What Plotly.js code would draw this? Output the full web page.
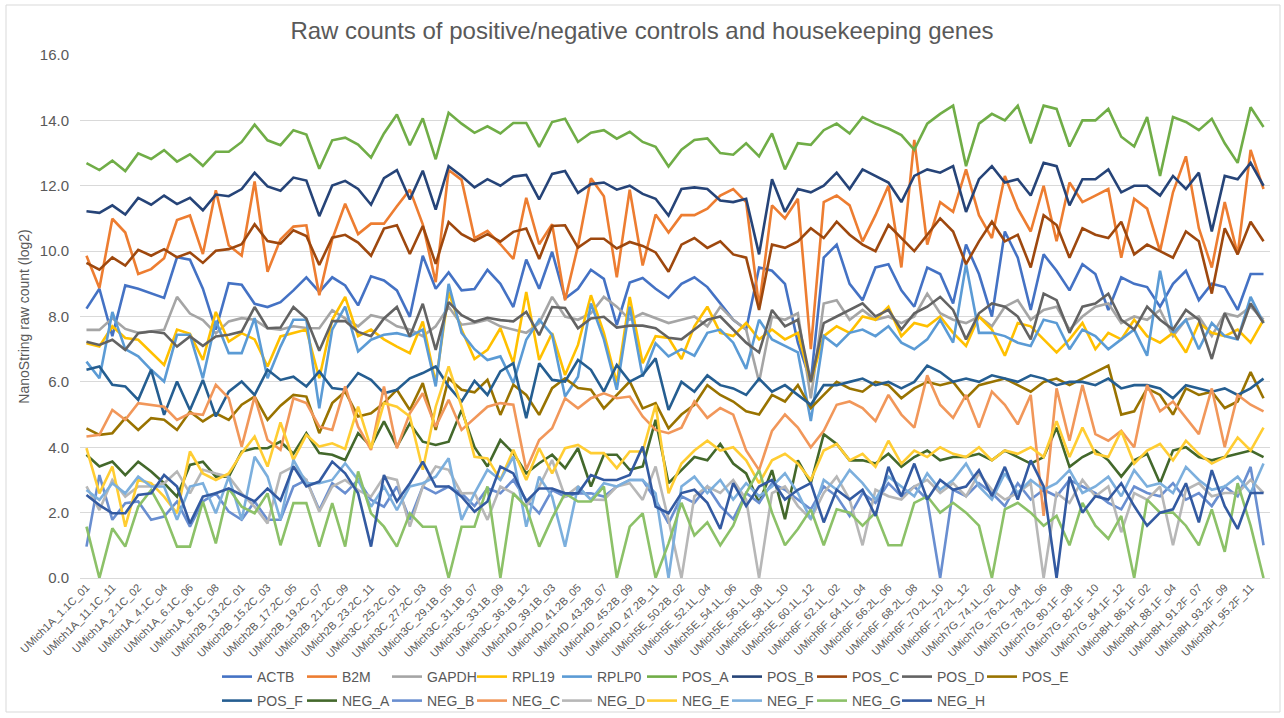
<!DOCTYPE html>
<html>
<head>
<meta charset="utf-8">
<script src="https://cdn.plot.ly/plotly-3.0.1.min.js"></script>
<style>
  html, body { margin: 0; padding: 0; background: #ffffff; overflow: hidden; }
  #chart { width: 1284px; height: 718px; }
</style>
</head>
<body>
<div id="chart"></div>
<script>
const samples = [
  "UMich1A_1.1C_01","UMich1A_10.1C_10","UMich1A_11.1C_11","UMich1A_12.1C_12","UMich1A_2.1C_02","UMich1A_3.1C_03",
  "UMich1A_4.1C_04","UMich1A_5.1C_05","UMich1A_6.1C_06","UMich1A_7.1C_07","UMich1A_8.1C_08","UMich1A_9.1C_09",
  "UMich2B_13.2C_01","UMich2B_14.2C_02","UMich2B_15.2C_03","UMich2B_16.2C_04","UMich2B_17.2C_05","UMich2B_18.2C_06",
  "UMich2B_19.2C_07","UMich2B_20.2C_08","UMich2B_21.2C_09","UMich2B_22.2C_10","UMich2B_23.2C_11","UMich2B_24.2C_12",
  "UMich3C_25.2C_01","UMich3C_26.2C_02","UMich3C_27.2C_03","UMich3C_28.2C_04","UMich3C_29.1B_05","UMich3C_30.1B_06",
  "UMich3C_31.1B_07","UMich3C_32.1B_08","UMich3C_33.1B_09","UMich3C_34.1B_10","UMich3C_36.1B_12","UMich4D_38.1B_02",
  "UMich4D_39.1B_03","UMich4D_40.1B_04","UMich4D_41.2B_05","UMich4D_42.2B_06","UMich4D_43.2B_07","UMich4D_44.2B_08",
  "UMich4D_45.2B_09","UMich4D_46.2B_10","UMich4D_47.2B_11","UMich4D_48.2B_12","UMich5E_50.2B_02","UMich5E_51.2B_03",
  "UMich5E_52.1L_04","UMich5E_53.1L_05","UMich5E_54.1L_06","UMich5E_55.1L_07","UMich5E_56.1L_08","UMich5E_57.1L_09",
  "UMich5E_58.1L_10","UMich5E_59.1L_11","UMich5E_60.1L_12","UMich6F_61.1L_01","UMich6F_62.1L_02","UMich6F_63.1L_03",
  "UMich6F_64.1L_04","UMich6F_65.2L_05","UMich6F_66.2L_06","UMich6F_67.2L_07","UMich6F_68.2L_08","UMich6F_69.2L_09",
  "UMich6F_70.2L_10","UMich6F_71.2L_11","UMich6F_72.2L_12","UMich7G_73.1L_01","UMich7G_74.1L_02","UMich7G_75.2L_03",
  "UMich7G_76.2L_04","UMich7G_77.2L_05","UMich7G_78.2L_06","UMich7G_79.1F_07","UMich7G_80.1F_08","UMich7G_81.1F_09",
  "UMich7G_82.1F_10","UMich7G_83.1F_11","UMich7G_84.1F_12","UMich8H_85.1F_01","UMich8H_86.1F_02","UMich8H_87.1F_03",
  "UMich8H_88.1F_04","UMich8H_90.2F_06","UMich8H_91.2F_07","UMich8H_92.2F_08","UMich8H_93.2F_09","UMich8H_94.2F_10",
  "UMich8H_95.2F_11","UMich8H_96.2F_12"
];

const ACTB = [8.24,8.85,7.4,8.95,8.85,8.7,8.57,9.81,9.74,8.85,7.6,9.02,8.97,8.39,8.29,8.44,8.8,9.2,8.75,9.2,8.95,8.34,9.23,9.1,8.8,7.99,9.86,8.85,9.35,8.8,8.84,9.43,9.0,8.29,9.74,8.85,9.98,8.55,8.85,9.43,9.15,7.74,9.04,9.18,8.85,8.57,
  9.0,9.2,8.9,8.4,7.9,7.6,9.5,9.4,9.0,7.2,6.0,9.8,10.2,9.0,8.5,9.5,9.6,8.8,8.3,9.5,9.3,8.4,10.2,9.3,8.0,10.6,9.8,8.2,9.9,9.4,8.8,9.6,9.3,8.2,9.2,9.0,8.9,8.3,9.0,9.4,8.5,9.0,8.9,8.2,9.3,9.3];
const B2M = [9.86,8.87,10.99,10.57,9.3,9.45,9.78,10.95,11.09,9.91,11.86,10.18,9.86,12.13,9.37,10.36,10.75,10.79,8.65,10.36,11.45,10.52,10.84,10.84,11.37,11.88,10.82,9.05,12.48,12.18,10.4,10.62,10.21,9.76,11.63,10.21,10.82,8.5,10.16,12.23,11.68,9.2,11.88,9.56,11.12,10.57,
  11.1,11.1,11.3,11.7,11.9,11.5,8.3,11.4,11.0,11.6,7.0,11.5,11.7,11.4,10.3,11.1,12.0,9.5,13.4,10.2,11.5,11.2,12.5,11.1,10.4,12.3,11.3,10.6,12.0,10.3,12.1,11.5,11.7,11.9,9.8,11.6,11.3,10.0,11.8,12.9,10.7,9.5,11.5,9.9,13.1,11.9];
const GAPDH = [7.59,7.59,7.95,7.62,7.5,7.55,7.59,8.6,8.09,7.89,7.48,7.85,7.95,7.9,7.64,7.6,7.7,7.65,7.64,8.19,7.94,7.7,8.04,7.95,7.7,7.6,7.4,7.7,8.3,7.75,7.8,7.9,7.7,7.6,7.5,7.8,8.6,8.0,7.9,8.1,8.6,8.3,7.9,8.1,7.95,7.8,
  7.9,8.0,7.7,8.3,7.9,7.6,6.0,8.0,7.9,8.1,5.5,8.4,8.5,7.9,8.2,7.9,8.0,7.8,8.0,8.7,8.1,7.9,7.8,8.0,7.7,8.3,8.5,7.9,8.2,8.3,7.6,8.0,8.3,8.4,7.8,8.0,7.9,8.2,7.4,7.9,8.0,7.4,8.1,8.0,8.3,7.9];
const RPL19 = [7.18,7.08,7.7,7.34,7.29,6.9,6.52,7.6,7.47,6.67,8.14,7.23,7.49,7.3,6.47,7.39,7.5,7.6,6.11,7.9,8.6,7.4,7.6,7.3,7.08,6.88,7.85,5.96,8.75,7.6,6.7,6.98,7.64,6.57,8.75,6.67,7.49,6.21,7.13,8.65,7.5,5.96,8.6,6.57,7.4,7.34,
  6.7,7.7,8.3,7.5,7.4,7.8,7.3,7.6,7.3,7.5,6.0,7.4,7.7,7.5,8.0,7.9,8.3,7.4,7.8,7.7,8.0,7.5,7.1,8.0,7.6,6.8,7.8,7.7,7.3,6.9,7.3,7.8,7.0,7.5,7.3,7.9,7.4,7.2,7.5,6.9,7.8,7.5,7.4,7.6,7.2,7.9];
const RPLP0 = [6.62,6.11,8.14,7.0,6.78,6.37,6.01,7.44,7.44,6.11,7.87,6.88,6.88,7.95,6.11,7.08,7.9,7.9,5.19,7.6,8.3,6.93,7.29,7.44,7.49,7.39,7.6,5.86,9.0,7.5,7.0,6.67,6.78,5.96,7.29,7.9,7.44,5.55,6.16,8.4,7.3,5.76,8.3,6.16,7.18,6.78,
  7.0,6.8,7.5,7.6,7.2,6.4,7.9,7.3,7.1,6.9,4.8,7.4,7.1,7.5,7.6,7.4,7.7,7.2,7.0,7.3,7.9,7.2,9.6,7.5,7.5,7.4,7.2,7.1,7.9,7.8,7.0,7.6,7.4,7.0,7.3,7.6,6.8,9.4,7.5,7.9,7.0,7.8,7.4,7.3,8.6,7.8];
const POS_A = [12.69,12.48,12.77,12.45,12.99,12.82,13.09,12.74,12.96,12.61,13.04,13.04,13.34,13.87,13.39,13.24,13.7,13.57,12.52,13.39,13.47,13.26,12.86,13.6,14.18,13.24,14.06,12.81,14.23,13.9,13.62,13.82,13.6,13.92,13.92,13.19,13.95,14.05,13.34,13.62,13.7,13.44,13.65,13.34,13.19,12.59,
  13.1,13.4,13.45,13.0,12.95,13.3,12.9,13.6,12.5,13.3,13.25,13.7,13.9,13.6,14.1,13.9,13.75,13.55,13.1,13.9,14.2,14.45,12.6,13.9,14.2,14.0,14.45,13.3,14.45,14.35,13.2,14.0,14.0,14.35,13.5,13.2,14.1,12.3,14.1,13.95,13.7,14.05,13.3,12.7,14.4,13.8];
const POS_B = [11.22,11.17,11.4,11.12,11.63,11.42,11.7,11.44,11.63,11.25,11.73,11.68,11.9,12.4,11.98,11.85,12.25,12.16,11.07,12.01,12.15,11.9,11.42,12.23,12.48,11.58,12.46,11.27,12.6,12.3,11.95,12.2,12.0,12.28,12.33,11.58,12.36,12.45,11.78,12.05,12.1,11.88,12.0,11.75,11.6,11.09,
  11.9,11.95,11.9,11.55,11.5,11.6,9.9,12.2,11.2,11.9,11.8,12.0,12.4,11.9,12.5,12.3,12.1,11.5,12.3,12.5,12.4,12.6,11.2,12.2,12.6,12.1,12.2,11.7,12.7,12.6,11.4,12.2,12.2,12.5,11.8,12.0,12.0,11.7,12.3,11.9,12.4,10.6,12.3,12.2,12.7,12.0];
const POS_C = [9.64,9.43,9.81,9.56,10.04,9.86,10.06,9.81,9.96,9.64,10.01,10.06,10.21,10.82,10.31,10.23,10.64,10.46,9.58,10.41,10.5,10.26,9.86,10.69,10.79,9.91,10.77,9.61,10.89,10.52,10.31,10.52,10.29,10.59,10.69,9.76,10.77,10.79,10.11,10.38,10.38,10.08,10.28,10.16,9.96,9.37,
  10.2,10.4,10.1,10.3,9.9,9.8,8.2,10.2,10.1,10.3,10.7,10.4,10.9,10.5,10.2,10.0,10.8,10.4,10.0,10.5,11.0,10.6,9.6,10.3,10.9,10.3,10.5,9.5,11.1,10.8,9.8,10.7,10.5,10.4,10.9,9.9,10.2,10.0,9.8,10.6,10.3,8.7,10.7,9.9,10.9,10.3];
const POS_D = [7.23,7.13,7.29,6.98,7.49,7.54,7.49,7.08,7.39,7.1,7.39,7.44,7.54,8.29,7.64,7.66,8.29,7.94,6.95,7.86,7.86,7.53,7.4,7.94,8.29,7.39,8.39,6.98,8.44,8.04,7.84,7.96,7.89,7.85,8.14,7.43,8.29,8.26,7.64,7.94,7.99,7.66,7.72,7.72,7.64,7.35,
  7.3,7.6,7.9,8.0,7.6,7.2,6.9,8.2,7.7,7.9,6.0,7.8,8.0,8.2,8.4,8.0,8.2,7.6,8.1,8.3,8.6,8.2,7.3,8.1,8.4,8.3,8.0,7.3,8.7,8.5,7.5,8.3,8.4,8.7,7.9,7.6,8.3,7.9,7.6,8.2,7.9,6.7,8.1,7.3,8.4,7.8];
const POS_E = [4.58,4.38,4.43,4.89,4.53,4.89,4.84,4.53,5.09,4.79,5.04,4.84,5.3,5.55,4.84,5.27,5.6,5.55,4.43,5.35,5.7,4.94,5.04,5.35,5.76,5.14,5.96,4.53,6.11,5.76,5.68,6.06,4.99,5.91,5.6,4.99,5.81,6.11,5.81,5.76,5.19,5.6,6.01,5.19,5.35,4.58,
  5.0,5.3,5.9,5.6,5.4,5.1,5.0,5.6,5.4,5.9,5.2,5.6,6.0,5.8,5.7,6.0,5.9,5.5,5.8,6.0,5.9,6.0,5.5,5.9,6.0,6.1,5.9,5.7,6.0,6.1,5.9,6.1,6.3,6.5,5.0,5.1,5.8,5.6,5.0,5.8,5.6,5.7,5.2,5.4,6.3,5.5];
const POS_F = [6.37,6.47,5.91,5.86,5.45,6.37,4.99,6.01,5.14,6.06,4.94,5.7,6.01,5.6,6.37,6.06,6.16,5.86,6.32,5.81,5.76,6.27,6.06,5.65,5.76,6.11,6.27,6.47,5.86,5.4,6.03,5.6,6.32,6.57,4.89,6.57,6.06,6.01,6.67,6.37,5.7,6.52,6.01,6.21,6.72,5.14,
  6.0,5.7,6.2,5.9,5.8,5.6,6.1,5.7,5.9,5.6,5.3,5.9,5.9,6.0,6.1,5.9,6.0,5.8,6.0,6.5,6.3,6.0,6.1,6.0,6.2,6.1,6.0,6.2,6.1,5.9,6.0,6.0,5.9,6.1,5.8,5.9,5.9,5.8,5.5,5.9,5.8,5.7,5.8,5.6,5.8,6.1];
const NEG_A = [3.77,3.41,3.56,3.15,3.56,3.26,2.9,2.49,3.46,3.56,3.1,3.1,3.87,3.97,3.97,4.17,3.8,4.43,3.82,3.77,3.61,4.43,4.02,4.79,4.02,4.73,4.17,4.07,4.17,5.14,4.0,3.41,4.22,3.82,3.2,3.51,3.77,3.36,3.97,2.8,3.77,3.77,3.31,3.41,4.84,2.9,
  3.3,3.7,3.6,4.1,3.5,3.2,2.3,3.3,1.8,3.6,2.9,4.4,4.1,3.6,3.6,3.5,3.8,3.4,3.7,3.9,3.6,3.7,3.7,3.8,3.6,3.9,3.7,3.5,3.7,4.6,3.4,3.7,3.9,3.6,3.1,3.6,3.8,2.9,3.9,4.0,3.7,3.6,3.7,3.8,3.9,3.7];
const NEG_B = [0.96,3.15,1.78,2.29,2.34,1.78,1.88,2.34,1.57,2.34,2.59,2.03,1.78,2.34,1.78,1.78,2.8,3.0,2.08,2.9,2.59,3.0,2.39,2.18,2.8,1.78,2.8,2.59,2.8,2.59,2.2,2.74,2.59,3.0,2.39,1.98,2.69,2.49,2.59,2.59,2.49,2.8,3.0,3.0,2.39,1.67,
  2.5,2.3,2.8,2.2,1.8,2.6,2.3,2.9,2.7,2.4,2.1,2.8,2.5,1.9,2.6,2.3,2.9,2.5,2.8,2.4,0,2.7,2.5,2.9,2.6,2.2,2.9,2.4,2.7,2.5,3.0,2.8,2.6,2.3,2.1,2.8,2.6,2.5,2.9,2.4,2.6,2.2,2.8,2.5,3.4,1.0];
const NEG_C = [4.33,4.38,5.14,4.84,5.35,5.3,5.24,4.84,5.04,4.99,5.91,5.5,4.02,5.55,4.22,3.92,5.5,5.35,4.63,4.53,5.86,4.63,3.92,5.86,3.97,5.04,5.65,4.63,5.45,4.53,4.9,5.24,5.35,5.3,3.31,4.22,4.58,5.5,5.19,5.5,5.65,5.5,5.55,4.94,4.53,4.43,
  4.6,5.4,4.9,5.2,5.0,3.9,3.3,4.5,5.0,4.6,4.0,4.5,5.3,5.4,5.2,4.8,5.6,5.0,4.6,6.2,5.3,4.9,5.6,4.6,5.7,5.3,4.7,5.6,1.9,5.8,4.2,5.9,4.4,4.2,4.5,4.0,5.9,5.1,5.4,4.9,4.4,5.8,4.0,5.6,5.3,5.1];
const NEG_D = [2.8,2.08,3.0,2.49,2.8,2.8,2.9,3.26,2.59,3.31,3.2,3.1,2.59,2.18,1.67,3.2,3.41,3.0,2.03,2.8,3.0,2.69,2.49,3.1,3.0,1.57,2.8,3.41,3.31,2.59,2.6,1.78,2.8,2.59,2.2,2.8,3.61,2.49,2.8,2.4,2.39,2.8,2.9,2.39,3.41,1.78,
  0,2.5,2.8,2.6,3.0,2.4,0,2.6,2.8,2.2,1.8,2.6,3.1,2.4,1.0,2.7,2.5,2.4,2.8,3.0,2.6,2.9,2.5,3.2,2.7,2.4,2.6,2.9,0,2.6,2.3,3.0,2.5,2.8,1.4,2.6,2.4,2.8,1.0,2.7,2.9,2.5,2.6,2.6,3.0,2.6];
const NEG_E = [3.97,2.59,3.41,1.57,3.0,2.9,2.49,1.98,3.87,3.2,3.0,3.2,3.82,4.33,3.41,4.76,3.61,4.38,4.02,4.12,3.95,5.24,3.97,5.35,5.24,4.94,3.31,5.24,6.47,5.24,3.71,3.66,3.0,3.92,3.0,3.97,3.2,3.97,4.07,3.82,3.82,3.36,3.87,3.87,5.3,2.59,
  3.5,3.9,4.2,3.9,4.0,3.6,2.9,3.6,3.8,3.5,3.0,3.9,4.1,3.6,3.8,3.4,4.2,3.5,3.9,3.7,4.0,3.8,3.7,4.0,3.6,3.9,3.8,4.0,3.7,4.8,3.7,4.6,3.8,3.7,4.5,3.5,3.9,4.1,3.6,4.2,3.8,3.5,3.7,4.3,3.9,4.6];
const NEG_F = [2.69,2.39,2.9,2.59,3.1,2.8,2.8,1.78,2.8,2.9,1.98,3.1,1.78,3.71,3.1,1.78,3.61,2.9,2.9,3.0,3.51,3.0,2.18,2.8,2.08,2.8,2.9,3.1,3.66,1.78,2.59,3.31,3.0,3.71,1.57,3.1,2.49,0.96,2.8,2.39,2.9,2.8,3.0,3.0,2.59,0,
  2.8,3.1,2.6,3.0,2.4,2.9,2.5,2.8,3.2,2.6,1.8,3.0,2.7,3.3,2.9,2.4,3.1,2.8,2.5,3.2,2.7,3.0,3.5,2.8,2.4,3.2,2.6,3.0,2.7,2.9,3.3,2.6,2.8,3.1,2.5,3.3,2.8,2.9,2.6,3.4,3.0,2.7,2.8,3.1,2.6,3.5];
const NEG_G = [1.57,0,1.52,0.96,2.18,2.69,1.98,0.96,0.96,2.34,1.06,2.74,2.18,1.98,2.59,1.0,2.29,2.29,0.96,2.29,0.96,3.26,1.98,1.57,0.96,1.98,1.57,1.57,0,1.57,1.57,2.8,0,2.59,2.18,0.96,1.83,2.59,2.34,2.34,2.8,0,1.57,1.98,0,1.06,
  2.3,1.3,1.7,1.0,1.6,2.6,3.3,2.0,1.0,1.5,2.1,1.0,2.1,2.0,1.6,2.0,1.0,1.0,2.3,2.5,2.0,2.3,2.0,1.6,0,2.1,2.3,2.0,1.6,1.9,1.0,2.3,1.6,1.2,1.9,0,2.4,2.0,2.0,1.6,1.0,2.1,0.8,2.9,1.6,0];
const NEG_H = [2.54,2.23,1.98,1.98,2.54,2.59,3.15,2.8,1.67,2.49,2.59,2.74,2.54,2.34,2.74,2.37,3.41,2.8,2.95,3.56,3.2,2.59,0.96,3.15,2.34,2.9,3.56,2.8,2.8,2.49,2.03,2.34,3.41,3.2,2.34,2.74,2.74,2.59,2.59,3.15,3.0,3.0,3.15,4.02,2.18,1.98,
  2.6,2.7,2.3,1.5,2.9,2.2,2.8,3.0,2.4,2.7,2.9,1.7,2.7,2.4,2.7,1.9,3.4,2.5,3.5,2.4,3.0,2.7,2.8,3.3,2.5,3.4,2.4,3.6,2.8,0,3.1,2.0,2.5,2.4,2.9,2.2,1.6,2.0,2.1,2.9,1.7,3.3,2.2,1.5,2.6,2.6];

const seriesNames = ["ACTB","B2M","GAPDH","RPL19","RPLP0","POS_A","POS_B","POS_C","POS_D","POS_E",
                     "POS_F","NEG_A","NEG_B","NEG_C","NEG_D","NEG_E","NEG_F","NEG_G","NEG_H"];
const seriesValues = [ACTB,B2M,GAPDH,RPL19,RPLP0,POS_A,POS_B,POS_C,POS_D,POS_E,
                      POS_F,NEG_A,NEG_B,NEG_C,NEG_D,NEG_E,NEG_F,NEG_G,NEG_H];
const seriesColors = ["#4472C4","#ED7D31","#A5A5A5","#FFC000","#5B9BD5","#70AD47","#264478","#9E480E","#636363","#997300",
                      "#255E91","#43682B","#698ED0","#F1975A","#B7B7B7","#FFCD33","#7CAFDD","#8CC168","#335AA1"];
const tickLabels = samples.filter((s, i) => i % 2 === 0);

seriesValues.forEach((v, k) => {
  if (v.length !== samples.length) throw new Error(seriesNames[k] + " has " + v.length + " values");
});

const W = 1284, H = 718;
const M = {l: 80, r: 14, t: 55, b: 140};
const pw = W - M.l - M.r, ph = H - M.t - M.b;
const px = x => (x - M.l) / pw;
const py = y => (H - M.b - y) / ph;
const cx = x => x / W;
const cy = y => 1 - y / H;

// one legend box per entry, laid out on two rows with a fixed step (as in the reference)
const legendKey = k => (k === 0 ? "legend" : "legend" + (k + 1));
const perRow = 10, step = 85, x0Leg = 217, rowY = [677, 701];

const traces = seriesNames.map((name, k) => ({
  type: "scatter",
  mode: "lines",
  name: name,
  x: samples,
  y: seriesValues[k],
  line: {color: seriesColors[k], width: 2.6},
  legend: legendKey(k),
  hoverinfo: "x+y+name"
}));

const legendCommon = {
  orientation: "h",
  xref: "container", yref: "container",
  xanchor: "left", yanchor: "middle",
  font: {family: "Liberation Sans, Arial, sans-serif", size: 14, color: "#595959"},
  bgcolor: "rgba(0,0,0,0)",
  itemwidth: 30,
  traceorder: "normal",
  tracegroupgap: 0
};

const layout = {
  width: W, height: H,
  margin: M,
  paper_bgcolor: "#ffffff",
  plot_bgcolor: "#ffffff",
  font: {family: "Liberation Sans, Arial, sans-serif", color: "#595959"},
  title: {
    text: "Raw counts of positive/negative controls and housekeeping genes",
    font: {size: 24, color: "#595959", family: "Liberation Sans, Arial, sans-serif"},
    xref: "container", x: 0.5, xanchor: "center",
    yref: "container", y: 1 - 31 / H, yanchor: "middle"
  },
  xaxis: {
    type: "category",
    range: [-0.5, samples.length - 0.5],
    tickmode: "array",
    tickvals: tickLabels,
    ticktext: tickLabels,
    tickangle: -45,
    tickfont: {size: 11, color: "#595959"},
    showgrid: false,
    zeroline: false,
    showline: false,
    ticks: "",
    automargin: false
  },
  yaxis: {
    range: [0, 16],
    dtick: 2,
    tick0: 0,
    tickformat: ".1f",
    tickfont: {size: 15, color: "#595959"},
    ticklabelstandoff: 10,
    gridcolor: "#D9D9D9",
    gridwidth: 1,
    zeroline: true,
    zerolinecolor: "#D9D9D9",
    zerolinewidth: 1,
    showline: false,
    ticks: "",
    automargin: false,
    title: {text: "NanoString raw count (log2)", font: {size: 14, color: "#595959"}, standoff: 6}
  },
  showlegend: true,
  shapes: [{
    type: "rect", xref: "paper", yref: "paper",
    x0: px(6), x1: px(1280), y0: py(712), y1: py(5),
    line: {color: "#D9D9D9", width: 1}, fillcolor: "rgba(0,0,0,0)", layer: "below"
  }]
};

seriesNames.forEach((name, k) => {
  const row = Math.floor(k / perRow), col = k % perRow;
  layout[legendKey(k)] = Object.assign({}, legendCommon, {
    x: cx(x0Leg + col * step),
    y: cy(rowY[row])
  });
});

Plotly.newPlot("chart", traces, layout, {displayModeBar: false, staticPlot: true});
</script>
</body>
</html>
